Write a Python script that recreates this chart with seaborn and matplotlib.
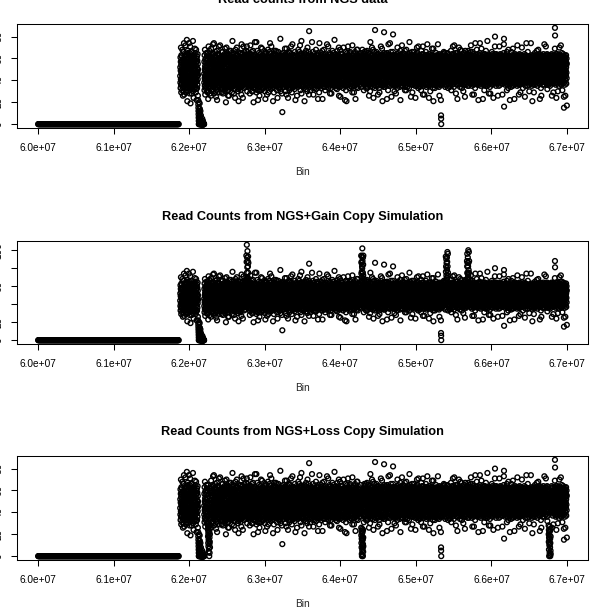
import numpy as np
import pandas as pd
import matplotlib
matplotlib.use("Agg")
import matplotlib.pyplot as plt
import seaborn as sns

# bins without any reads at the start of the region
ZERO_START = 60_000_000
ZERO_END = 61_860_000
ZERO_STEP = 5_000

# read counts of the covered part: consecutive bins, 32 bins per line
BAND_START = 61_880_000
BIN_SIZE = 1_240
BAND_COUNTS = """
44 52 38 61 33 49 57 41 70 36 54 29 47 63 40 58 50 37 62 45 31 56 43 68 39 53 47 34 59 26 48 41
51 35 46 66 42 30 55 39 74 48 60 27 44 37 53 62 36 58 44 51 63 40 47 33 55 72 38 49 61 45 29 52
39 57 45 31 64 50 36 77 43 59 34 48 21 55 41 67 53 41 65 36 48 57 30 44 60 39 51 46 74 34 56 43
48 33 60 42 52 28 65 38 46 56 71 35 50 44 19 62 45 59 37 54 41 66 49 33 52 44 61 28 47 57 39 35
55 40 47 32 63 37 58 45 76 30 51 43 61 36 49 24 38 50 61 44 56 35 47 63 41 53 32 58 45 69 49 42
42 59 34 50 65 38 46 29 56 41 68 53 32 47 60 22 57 46 39 62 33 51 44 58 36 48 64 41 55 26 50 45
22 18 15 12 9 6 3 0 0 20 11 1 7 14 0 4 19 14 10 7 0 0 3 0 12 0 5 0 0 8 0 2
0 0 0 0 0 0 0 0 2 0 0 5 0 0 0 0 0 0 0 3 0 0 0 0 0 0 1 0 0 0 0 0
46 38 57 31 63 42 50 35 68 44 53 27 59 40 48 33 52 44 60 37 49 56 41 65 34 51 45 58 30 62 47 39
53 41 36 60 47 29 65 44 38 56 50 23 62 34 45 71 39 55 48 34 61 43 52 46 67 37 57 41 53 28 49 60
40 58 47 33 62 51 37 45 26 55 69 42 31 49 60 38 56 35 51 63 44 48 39 58 42 54 31 65 46 50 37 73
57 43 35 64 48 30 52 39 74 46 61 28 41 54 36 50 44 61 38 49 55 42 66 33 51 47 59 36 53 40 62 25
36 49 61 42 31 55 45 67 38 52 22 47 59 34 43 64 53 45 57 39 64 48 35 52 43 60 47 38 56 71 41 50
50 34 46 58 40 63 29 53 44 37 72 56 32 48 61 42 37 55 42 60 47 33 53 45 62 40 51 57 29 48 44 66
43 60 37 52 33 47 66 41 55 28 49 39 62 45 35 57 58 40 49 35 56 45 61 38 52 64 43 55 47 33 69 41
62 39 51 44 30 57 35 48 20 64 42 53 37 46 70 33 45 52 36 59 41 63 48 54 39 46 57 31 61 50 43 26
38 54 45 31 59 48 36 63 43 26 51 40 57 34 67 47 51 42 60 47 37 55 44 62 34 58 49 40 53 67 45 56
47 33 58 41 52 65 37 44 29 55 61 39 50 35 76 43 39 57 46 53 61 35 50 43 65 41 48 59 37 54 28 47
55 42 36 49 61 32 46 57 40 53 24 64 38 45 51 68 60 38 52 44 57 49 34 63 46 39 55 50 42 70 36 53
41 63 48 35 54 44 30 59 37 50 66 43 32 56 47 21 47 54 40 62 43 58 51 36 48 60 33 45 56 41 65 38
49 37 56 43 31 61 46 39 53 65 34 48 58 27 42 73 35 50 59 42 53 46 64 39 56 44 61 37 49 24 52 58
48 36 59 44 71 53 40 62 33 51 46 66 38 55 42 57 54 43 49 37 60 45 56 41 63 34 50 58 46 53 39 67
52 40 63 47 35 58 44 71 50 38 61 30 54 45 66 42 47 59 38 55 43 62 50 36 57 45 41 64 49 35 53 60
39 51 44 60 33 47 55 28 64 42 37 53 49 72 35 58 58 45 52 40 64 47 35 61 44 55 49 38 66 42 51 30
45 58 36 50 62 41 30 54 47 39 67 44 56 33 49 20 41 56 47 62 38 53 59 44 50 34 57 46 63 40 75 49
54 38 47 63 43 32 57 49 40 60 35 52 45 75 29 41 50 37 61 45 55 42 48 67 36 53 44 59 31 56 47 22
37 49 59 42 53 34 46 65 39 55 44 31 61 48 26 57 44 62 39 52 47 58 35 50 64 43 55 41 60 48 37 70
48 62 40 55 31 47 58 36 52 43 69 38 60 45 33 50 55 41 57 46 36 63 49 42 53 61 38 47 56 33 51 45
56 43 35 51 64 39 48 57 30 45 61 41 53 23 66 46 38 53 45 60 50 41 65 47 35 57 44 52 39 62 48 27
42 54 47 36 59 50 33 44 68 40 57 49 37 62 29 52 61 46 53 39 57 44 37 59 48 42 66 51 34 55 45 74
50 37 61 45 41 56 32 53 47 64 39 58 43 71 35 48 43 58 36 54 46 62 51 40 56 33 49 45 63 38 60 21
34 48 55 42 63 38 51 45 29 60 47 36 54 41 67 58 52 39 64 48 42 55 45 61 37 53 58 41 50 67 44 36
46 59 39 52 35 57 44 66 49 31 55 42 61 37 50 24 40 56 47 35 60 51 43 54 66 46 39 57 33 49 62 48
61 44 50 36 58 47 33 54 41 63 38 52 45 78 30 56 57 43 52 62 38 49 55 41 47 59 36 64 45 51 28 53
43 55 11 48 60 39 51 34 57 46 65 40 53 36 49 62 46 60 39 53 45 57 34 63 50 42 55 48 61 37 69 44
52 38 46 63 41 56 30 49 59 44 35 61 47 54 27 69 54 37 58 44 62 41 50 47 35 56 64 43 52 39 48 24
39 51 58 44 33 62 47 40 55 36 66 49 42 57 31 46 41 65 47 56 36 53 44 60 49 38 58 45 33 62 51 71
57 42 35 50 64 45 38 53 29 60 48 41 56 34 73 47 59 46 40 52 57 43 63 37 54 48 45 61 39 50 34 56
45 61 49 37 54 32 58 43 66 40 51 35 62 47 22 55 38 54 49 61 44 35 57 51 42 64 47 53 40 58 46 26
50 36 59 44 47 63 39 55 41 34 57 48 68 38 52 43 53 42 60 37 55 48 41 66 45 52 36 59 49 43 63 72
38 53 45 60 31 49 56 42 64 35 47 58 40 51 76 28 47 58 35 50 63 44 54 39 61 46 57 41 52 34 48 55
54 41 62 48 36 57 44 50 33 59 46 39 65 52 43 21 61 39 53 45 48 58 37 56 43 64 50 47 40 59 32 67
47 58 40 53 63 35 49 45 56 38 61 42 30 55 48 70 42 55 46 59 36 51 62 44 57 39 48 53 66 41 50 27
85 44 56 39 51 46 34 60 42 53 37 64 48 57 31 50 55 47 40 63 52 38 58 45 49 61 35 54 43 57 46 75
41 55 48 62 37 52 44 58 33 49 66 40 54 45 27 60 36 52 59 44 56 47 41 64 38 53 50 62 45 33 58 49
59 43 51 36 47 61 39 55 45 68 32 50 57 42 48 35 50 63 43 55 39 57 48 52 60 36 46 41 65 51 44 23
46 38 63 50 42 55 35 48 60 44 53 29 58 41 74 51 57 41 52 46 62 35 54 43 59 49 38 56 47 61 40 53
52 65 44 39 57 47 33 61 49 36 54 43 67 38 56 23 44 59 38 60 47 53 64 41 50 57 45 34 55 43 68 39
37 50 58 45 34 62 48 41 55 39 64 46 31 59 52 44 53 46 62 40 55 42 50 58 36 47 61 52 39 56 44 73
55 42 49 61 38 53 45 36 60 47 40 57 71 33 50 43 40 57 45 51 63 37 59 44 54 41 49 65 46 35 60 28
44 59 36 52 46 64 40 56 33 49 58 42 37 62 28 53 62 43 55 48 38 60 46 52 67 43 57 36 50 58 45 41
60 47 54 39 65 43 51 35 57 45 38 61 48 55 41 77 47 54 39 63 50 44 58 37 53 61 42 48 56 33 64 52
48 35 56 44 61 50 39 63 46 53 32 58 42 67 37 51 56 40 61 46 53 35 49 62 45 57 39 55 48 70 41 26
39 53 47 62 41 56 34 49 59 44 68 37 52 45 25 57 43 58 50 37 60 47 54 41 64 48 56 35 59 44 51 46
57 45 38 51 64 42 55 47 36 60 49 33 62 40 53 70 59 44 53 48 41 62 38 57 49 43 61 52 36 55 46 22
43 61 50 35 53 46 58 40 66 48 31 56 44 59 38 21 48 62 36 55 57 43 50 65 40 53 46 59 42 49 37 71
51 38 57 46 42 63 36 54 48 60 40 52 33 65 45 47 54 41 59 44 50 66 47 38 56 45 62 35 51 60 43 53
46 55 41 60 49 34 58 43 52 37 63 47 56 29 72 50 39 56 47 63 42 53 35 59 45 51 40 64 48 55 61 29
58 42 53 39 61 47 44 57 35 50 66 41 54 38 48 23 52 45 60 38 57 49 62 44 50 37 55 43 58 34 47 68
45 59 37 52 68 41 55 48 33 62 44 57 39 50 46 61 47 61 42 55 36 58 50 45 63 41 53 48 39 60 44 56
53 40 61 47 36 58 44 65 50 39 55 42 63 34 49 57 58 44 51 62 40 55 47 53 68 43 59 38 56 45 50 61
40 56 48 63 37 52 45 59 31 54 43 61 38 50 66 47 45 57 38 60 49 53 43 64 36 55 47 59 41 52 66 33
56 44 39 58 50 35 62 46 53 41 67 48 33 60 45 52 60 42 55 47 37 61 50 44 57 39 53 65 46 58 41 26
48 61 43 54 36 57 49 40 64 45 52 30 59 42 75 38 44 58 49 35 63 46 54 41 59 51 38 55 62 43 48 70
37 50 59 45 63 41 54 47 34 58 43 68 49 56 40 24 53 39 61 45 57 42 48 66 36 52 60 44 55 49 33 58
86 53 41 57 47 62 38 50 44 60 35 55 48 42 66 51 48 63 41 54 45 59 37 51 64 40 56 47 35 61 53 27
45 58 36 52 60 43 49 64 39 55 47 33 61 41 53 29 57 45 52 39 61 48 55 43 50 62 38 58 46 53 71 41
60 46 55 40 48 63 37 52 57 44 69 42 50 35 58 21 42 56 60 46 51 36 63 49 44 57 53 40 59 34 48 65
84 40 56 47 61 38 53 45 59 34 50 64 43 57 48 36 55 43 48 61 40 57 45 53 38 64 47 56 42 50 62 23
52 65 43 58 36 49 61 46 54 40 57 31 48 63 44 73 39 59 53 44 62 50 41 56 47 35 58 45 61 52 43 74
41 54 48 35 60 45 57 39 51 66 43 55 37 62 47 25 60 47 37 55 46 63 52 40 57 49 44 59 36 54 66 48
82 49 61 44 53 38 57 47 63 41 55 35 50 59 45 30 46 54 62 41 56 38 49 61 43 52 58 35 47 63 40 28
47 39 55 62 44 51 36 58 49 42 64 53 33 57 46 70 53 40 57 48 36 60 44 55 65 42 50 46 62 39 56 45
58 45 51 37 63 48 42 56 34 60 46 53 40 67 50 22 41 63 45 59 52 47 56 38 49 61 44 53 35 58 48 72
43 57 38 52 46 61 49 35 59 44 54 41 65 48 39 56 58 49 54 37 61 43 50 64 46 55 39 57 42 51 67 31
54 41 60 47 34 55 43 63 50 38 57 46 52 31 68 44 47 36 59 52 44 62 41 56 48 34 60 45 53 63 40 50
39 52 46 58 42 64 37 51 45 56 33 61 48 40 55 75 62 53 43 48 57 38 65 46 51 59 42 49 56 37 54 25
61 48 43 55 39 50 59 45 36 53 66 42 57 47 29 51 40 57 50 63 45 54 36 59 47 43 61 38 52 66 49 44
46 55 37 62 49 41 54 44 60 35 51 47 63 40 57 24 56 45 61 41 52 47 58 39 64 50 37 55 44 60 35 70
52 39 58 45 65 43 50 56 38 61 46 54 33 49 42 71 44 59 37 55 48 62 43 53 40 57 51 46 63 34 58 49
44 60 49 36 53 47 62 40 55 42 58 31 51 45 67 38 60 42 53 47 39 56 64 45 58 36 49 61 43 52 71 27
57 43 52 64 41 56 35 48 61 45 39 54 47 59 27 50 48 55 45 61 57 40 51 38 54 63 44 47 59 41 36 66
40 53 46 58 34 50 63 44 55 38 49 60 42 52 73 36 59 38 62 50 44 53 46 60 41 57 35 52 48 64 43 24
55 47 61 39 52 44 57 36 49 64 41 53 46 30 58 43 42 61 49 37 58 46 55 43 63 40 51 47 60 38 54 69
48 36 54 60 45 51 40 63 47 56 33 59 43 50 69 21 57 44 40 54 62 49 36 59 45 52 61 39 56 43 48 33
42 58 45 51 37 62 49 54 39 57 46 65 35 52 44 60 46 53 63 42 47 58 44 51 37 62 45 55 40 60 35 73
59 46 40 55 63 43 50 37 58 48 53 34 61 45 56 26 52 64 39 58 43 50 61 46 56 41 54 36 49 63 47 22
8 5 0 47 56 40 61 44 52 36 58 49 42 63 38 54 61 45 53 37 59 48 42 56 50 64 39 57 44 52 66 41
45 57 39 52 65 43 50 36 59 47 54 41 61 34 49 56 39 58 47 62 51 44 55 36 60 48 42 57 46 53 41 61
52 40 58 46 65 37 55 48 43 64 50 33 57 44 60 39 54 43 60 46 37 57 50 63 45 52 40 59 48 34 62 56
38 54 47 61 42 56 35 50 59 44 67 40 53 46 31 57 47 61 42 55 64 39 53 45 58 36 50 44 57 62 41 71
56 43 51 37 60 48 54 41 64 45 34 58 49 52 72 39 55 40 57 49 44 62 46 38 60 53 43 56 65 47 51 28
44 59 39 53 47 62 42 55 36 50 57 46 65 40 51 23 43 57 52 36 59 47 63 51 41 55 61 39 48 54 45 70
51 37 56 44 61 49 40 58 45 53 34 63 47 42 68 55 60 46 39 63 50 43 56 48 62 37 52 45 58 42 67 33
47 58 43 64 39 52 55 45 60 36 50 41 57 48 30 62 49 54 61 44 57 40 51 65 38 46 59 53 36 60 47 25
53 41 60 47 67 44 56 38 51 62 45 58 36 49 43 55 41 62 47 53 38 59 45 55 64 50 43 57 49 35 61 46
40 55 48 67 43 57 35 52 46 65 50 38 59 44 54 49 58 45 52 40 63 48 56 43 61 37 54 46 66 51 39 72
58 45 52 39 63 47 41 56 50 35 60 44 54 48 27 66 44 60 38 57 47 53 64 41 50 59 36 55 45 62 49 27
43 60 37 54 48 42 58 46 62 39 51 56 33 45 74 50 56 41 63 49 55 37 46 58 43 61 52 39 57 44 68 50
55 42 49 61 36 53 45 57 40 64 47 38 59 52 44 22 39 58 47 52 61 44 54 36 63 48 41 56 50 65 43 74
46 57 40 52 63 44 49 35 58 42 55 61 38 50 47 69 61 48 53 42 57 50 39 62 46 55 44 59 37 52 47 23
52 38 59 45 50 62 42 54 36 57 47 64 41 53 31 48 45 55 60 38 51 64 47 43 58 40 53 49 62 35 56 67
39 53 46 60 41 55 48 37 63 44 51 58 35 56 43 76 53 42 49 61 44 56 36 59 51 46 63 41 54 48 39 28
57 44 62 49 38 53 45 59 42 56 34 50 61 47 28 40 40 63 55 47 60 39 52 45 57 62 43 50 37 58 66 47
45 59 36 51 64 42 55 48 39 60 46 53 41 57 50 24 59 47 41 56 50 62 44 53 38 49 60 46 55 42 64 71
80 48 41 57 53 37 62 45 50 43 59 35 54 47 64 39 46 54 63 44 39 57 51 60 47 41 55 37 62 52 45 26
50 43 58 38 61 47 54 40 56 49 35 63 45 52 42 71 57 39 48 62 54 45 59 36 53 64 43 58 49 40 61 50
42 56 47 63 44 51 39 58 46 60 37 53 49 41 55 27 43 61 52 46 58 37 55 47 62 50 44 56 39 65 48 73
78 16 55 43 60 48 38 57 45 52 41 63 36 50 47 59 54 47 40 59 45 63 42 51 56 38 60 47 53 44 66 31
48 61 40 53 46 36 58 50 44 62 39 55 47 57 33 68 41 56 62 48 53 43 58 45 39 61 50 36 57 49 54 22
54 42 57 45 62 49 37 53 41 59 46 34 56 43 66 50 60 44 49 55 38 57 47 63 52 43 59 41 54 46 35 69
41 55 49 36 58 44 60 47 52 39 63 45 54 38 51 23 47 59 43 61 50 45 56 39 64 48 42 58 37 53 62 44
59 46 52 63 40 55 43 49 57 37 61 48 35 53 45 72 53 38 57 46 62 51 41 55 44 60 49 63 45 36 52 27
45 38 57 49 54 42 64 46 36 58 50 43 60 40 52 29 39 60 50 44 55 63 47 52 37 58 43 54 61 48 41 70
52 60 43 55 37 61 48 41 56 46 33 59 44 62 49 38 58 45 62 39 48 54 42 60 50 45 64 38 56 43 57 25
40 53 46 59 49 35 56 44 63 51 42 57 38 54 47 74 44 55 49 58 41 60 51 46 57 35 53 47 62 40 66 52
57 44 61 39 52 47 58 42 55 36 60 50 45 53 30 48 62 48 41 53 56 43 59 38 49 61 46 55 44 57 37 74
46 58 37 54 44 63 49 40 57 51 35 61 43 56 48 21 50 43 57 47 62 39 54 48 60 44 52 36 58 63 45 29
53 40 56 47 61 38 51 45 59 42 65 48 36 54 44 57 45 61 38 56 44 58 50 63 41 53 47 59 42 55 49 67
39 55 48 62 43 57 35 52 46 60 41 53 49 58 68 44 57 42 54 49 60 46 37 55 45 62 39 51 56 44 64 23
58 45 51 37 63 47 54 42 59 49 33 56 44 61 50 26 42 59 47 63 39 53 57 44 51 48 61 41 54 36 58 46
44 60 39 55 49 64 42 51 36 57 47 53 40 62 45 73 55 46 61 41 56 49 44 60 38 57 50 45 63 47 52 71
51 38 57 45 62 48 53 41 59 36 55 43 64 47 50 32 40 57 50 45 63 37 53 48 59 42 55 61 44 52 36 60
47 59 42 54 37 61 45 50 56 40 63 49 35 58 44 52 61 44 55 38 52 58 46 62 49 41 57 53 39 64 47 26
42 56 47 58 40 53 63 45 56 37 60 49 43 55 51 29 48 53 43 60 46 55 39 57 44 63 50 41 58 52 45 69
88 81 49 61 38 52 45 59 36 54 47 64 41 57 50 24 56 40 59 47 62 44 51 37 55 49 60 43 64 46 53 30
55 41 60 46 52 39 57 44 63 48 35 58 50 43 53 70 43 58 52 38 57 48 63 45 41 54 59 50 37 61 47 72
48 62 44 57 36 51 59 46 54 40 65 43 55 39 61 31 59 47 55 62 43 51 40 56 48 64 44 53 58 39 50 25
15 57 43 52 38 60 47 55 41 63 36 50 45 58 49 26 46 61 40 54 49 58 44 63 52 37 56 47 60 42 55 17
"""

# simulated gains: counts in these bin ranges are scaled up
GAIN_REGIONS = [(62_755_000, 62_785_000), (64_275_000, 64_305_000),
                (65_395_000, 65_425_000), (65_675_000, 65_705_000)]
GAIN_FACTOR = 1.5

# simulated losses: bin range and the reduced counts of its 24 bins
LOSS_REGIONS = [(62_245_000, 62_275_000), (64_275_000, 64_305_000),
                (66_755_000, 66_785_000)]
LOSS_COUNTS = [
    [31, 24, 18, 27, 12, 21, 9, 26, 15, 4, 19, 23, 7, 28, 14, 0, 22, 11, 17, 3, 25, 13, 20, 8],
    [26, 19, 12, 23, 8, 16, 2, 21, 0, 14, 25, 5, 18, 10, 1, 22, 7, 15, 0, 11, 24, 4, 17, 9],
    [28, 20, 13, 24, 6, 17, 0, 22, 10, 15, 27, 3, 19, 11, 1, 23, 8, 16, 0, 12, 25, 5, 18, 2],
]

TITLES = ["Read counts from NGS data",
          "Read Counts from NGS+Gain Copy Simulation",
          "Read Counts from NGS+Loss Copy Simulation"]
X_TICKS = [6.0e7, 6.1e7, 6.2e7, 6.3e7, 6.4e7, 6.5e7, 6.6e7, 6.7e7]
Y_TICKS = [[0, 20, 40, 60, 80], [0, 20, 40, 60, 80, 100], [0, 20, 40, 60, 80]]
Y_TICK_LABELS = [["0", "20", "40", "60", "80"],
                 ["0", "20", "", "60", "", "100"],
                 ["0", "20", "40", "60", "80"]]


def load_counts():
    counts = [int(v) for v in BAND_COUNTS.split()]
    band = pd.DataFrame({"bin": BAND_START + BIN_SIZE * np.arange(len(counts)),
                         "count": counts})
    zeros = pd.DataFrame({"bin": np.arange(ZERO_START, ZERO_END + 1, ZERO_STEP), "count": 0})
    df = pd.concat([zeros, band], ignore_index=True)
    df["count"] = df["count"].astype(float)
    return df


def simulate_gain(df, regions, factor):
    out = df.copy()
    for start, end in regions:
        mask = out["bin"].between(start, end)
        out.loc[mask, "count"] = (out.loc[mask, "count"] * factor).round()
    return out


def simulate_loss(df, regions, counts):
    out = df.copy()
    for (start, end), values in zip(regions, counts):
        mask = out["bin"].between(start, end)
        out.loc[mask, "count"] = values[:mask.sum()]
    return out


def plot_counts(ax, df, title, yticks, ylabels):
    sns.scatterplot(data=df, x="bin", y="count", ax=ax, marker="o", s=12,
                    facecolor="none", edgecolor="black", linewidth=1.0)
    ax.margins(x=0.04, y=0.04)
    ax.set_xticks(X_TICKS, [f"{t:.1e}" for t in X_TICKS])
    ax.set_yticks(yticks, ylabels, rotation=90, va="center")
    ax.tick_params(axis="x", pad=6.5)
    ax.tick_params(axis="y", pad=5.4)
    ax.set_title(title, fontsize=9.2, fontweight="bold", pad=15)
    ax.set_xlabel("Bin", labelpad=10)
    ax.set_ylabel("")


sns.set_theme(style="ticks", rc={
    "axes.edgecolor": "black",
    "axes.linewidth": 0.75,
    "xtick.major.size": 4.3,
    "ytick.major.size": 4.3,
    "xtick.major.width": 0.75,
    "ytick.major.width": 0.75,
    "xtick.labelsize": 7.3,
    "ytick.labelsize": 7.3,
    "axes.labelsize": 7.3,
    "xtick.color": "black",
    "ytick.color": "black",
    "text.color": "black",
})
plt.rcParams["font.family"] = ["Liberation Sans", "DejaVu Sans"]

ngs = load_counts()
gain = simulate_gain(ngs, GAIN_REGIONS, GAIN_FACTOR)
loss = simulate_loss(ngs, LOSS_REGIONS, LOSS_COUNTS)

W, H = 592, 607
fig = plt.figure(figsize=(W / 100, H / 100), dpi=100)
boxes = [(24, 128), (241, 344), (456, 560)]
for (top, bottom), df, title, yt, yl in zip(boxes, [ngs, gain, loss], TITLES, Y_TICKS, Y_TICK_LABELS):
    ax = fig.add_axes([17 / W, 1 - bottom / H, 571 / W, (bottom - top) / H])
    plot_counts(ax, df, title, yt, yl)

fig.savefig("out.png", dpi=100)
